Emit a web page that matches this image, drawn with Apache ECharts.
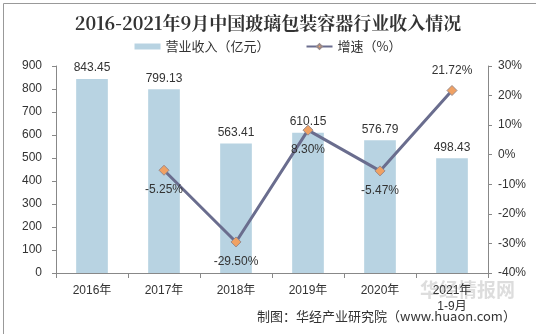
<!DOCTYPE html>
<html><head><meta charset="utf-8">
<script src="https://cdn.jsdelivr.net/npm/echarts@6/dist/echarts.min.js"></script>
<style>html,body{margin:0;padding:0;background:#fff}#c{width:536px;height:334px}</style>
</head><body><div id="c"></div>
<script>
const categories = ['2016年','2017年','2018年','2019年','2020年','2021年\n1-9月'];
const revenue = [843.45, 799.13, 563.41, 610.15, 576.79, 498.43];
const growth = [null, -5.25, -29.50, 8.30, -5.47, 21.72];
const growthLabelPos = [null, 'bottom', 'bottom', 'bottom', 'bottom', 'top'];

const chart = echarts.init(document.getElementById('c'));
const font = '"Liberation Sans", Arial, sans-serif';
chart.setOption({
  animation: false,
  textStyle: {fontFamily: font},
  title: {
    text: '2016-2021年9月中国玻璃包装容器行业收入情况',
    left: 'center', top: 9,
    textStyle: {fontFamily: '"Noto Serif CJK SC","Liberation Serif","Noto Sans CJK SC",serif', fontSize: 18, fontWeight: 'bold', color: '#333'}
  },
  legend: {
    top: 35, left: 'center', itemGap: 36, itemWidth: 26, itemHeight: 6,
    textStyle: {fontSize: 13, color: '#333', fontFamily: '"Noto Sans CJK SC", sans-serif'},
    data: [
      {name: '营业收入（亿元）', icon: 'rect'},
      {name: '增速（%）'}
    ]
  },
  grid: {left: 56, right: 48, top: 66, bottom: 61},
  xAxis: {
    type: 'category', data: categories,
    axisLine: {lineStyle: {color: '#888'}},
    axisTick: {show: true, alignWithLabel: false, lineStyle: {color: '#888'}},
    axisLabel: {color: '#333', fontSize: 12, margin: 10, lineHeight: 16,
      fontFamily: '"Liberation Sans","Noto Sans CJK SC",sans-serif'}
  },
  yAxis: [
    {type: 'value', min: 0, max: 900, interval: 100,
      axisLine: {show: true, lineStyle: {color: '#888'}},
      axisTick: {show: true, inside: false, length: 4, lineStyle: {color: '#888'}},
      splitLine: {show: false},
      axisLabel: {color: '#333', fontSize: 12, margin: 14}},
    {type: 'value', min: -40, max: 30, interval: 10,
      axisLine: {show: true, lineStyle: {color: '#888'}},
      axisTick: {show: true, length: 4, lineStyle: {color: '#888'}},
      splitLine: {show: false},
      axisLabel: {color: '#333', fontSize: 12, margin: 10, formatter: '{value}%'}}
  ],
  series: [
    {name: '营业收入（亿元）', type: 'bar', data: revenue, barWidth: '44%',
      itemStyle: {color: '#b8d3e2'},
      label: {show: true, position: 'top', color: '#333', fontSize: 12, distance: 5,
        formatter: p => p.value.toFixed(2)}},
    {name: '增速（%）', type: 'line', yAxisIndex: 1,
      data: growth.map((v, i) => v === null ? null : {value: v, label: {position: growthLabelPos[i]}}),
      lineStyle: {color: '#6a6d8e', width: 3},
      itemStyle: {color: '#f0a163', borderColor: '#9a8a8a', borderWidth: 1},
      symbol: 'diamond', symbolSize: 10,
      label: {show: true, color: '#333', fontSize: 12, distance: 8,
        formatter: p => p.value.toFixed(2) + '%'}}
  ],
  graphic: [
    {type: 'rect', left: 1, top: 1, shape: {width: 533, height: 331}, style: {fill: 'none', stroke: '#999', lineWidth: 1}},
    {type: 'text', left: 420, top: 280, style: {text: '华经情报网', fill: 'rgba(180,180,180,0.45)', font: 'bold 19px "Noto Sans CJK SC"'}},
    {type: 'text', left: 257, top: 310, style: {text: '制图：华经产业研究院（www.huaon.com）', fill: '#333', font: '13px "Noto Sans CJK SC"'}}
  ]
});
</script></body></html>
